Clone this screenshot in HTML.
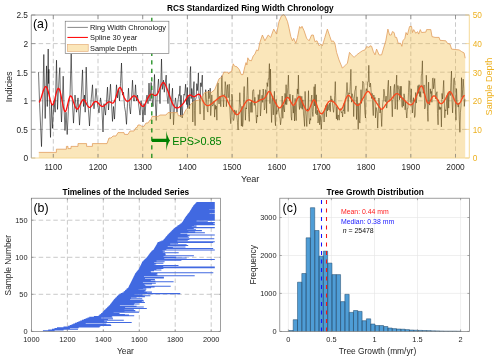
<!DOCTYPE html>
<html lang="en"><head><meta charset="utf-8"><title>RCS Standardized Ring Width Chronology</title>
<style>html,body{margin:0;padding:0;background:#fff}svg{display:block}</style></head>
<body>
<svg width="500" height="361" viewBox="0 0 500 361" font-family='"Liberation Sans", Arial, sans-serif'>
<rect width="500" height="361" fill="#fff"/>
<g>
<line x1="53.3" x2="53.3" y1="15.0" y2="158.0" stroke="#adadad" stroke-width="0.65" stroke-dasharray="4.5,2.8"/>
<line x1="98.0" x2="98.0" y1="15.0" y2="158.0" stroke="#adadad" stroke-width="0.65" stroke-dasharray="4.5,2.8"/>
<line x1="142.7" x2="142.7" y1="15.0" y2="158.0" stroke="#adadad" stroke-width="0.65" stroke-dasharray="4.5,2.8"/>
<line x1="187.4" x2="187.4" y1="15.0" y2="158.0" stroke="#adadad" stroke-width="0.65" stroke-dasharray="4.5,2.8"/>
<line x1="232.1" x2="232.1" y1="15.0" y2="158.0" stroke="#adadad" stroke-width="0.65" stroke-dasharray="4.5,2.8"/>
<line x1="276.8" x2="276.8" y1="15.0" y2="158.0" stroke="#adadad" stroke-width="0.65" stroke-dasharray="4.5,2.8"/>
<line x1="321.4" x2="321.4" y1="15.0" y2="158.0" stroke="#adadad" stroke-width="0.65" stroke-dasharray="4.5,2.8"/>
<line x1="366.1" x2="366.1" y1="15.0" y2="158.0" stroke="#adadad" stroke-width="0.65" stroke-dasharray="4.5,2.8"/>
<line x1="410.8" x2="410.8" y1="15.0" y2="158.0" stroke="#adadad" stroke-width="0.65" stroke-dasharray="4.5,2.8"/>
<line x1="455.5" x2="455.5" y1="15.0" y2="158.0" stroke="#adadad" stroke-width="0.65" stroke-dasharray="4.5,2.8"/>
<line x1="31.3" x2="469.3" y1="129.4" y2="129.4" stroke="#adadad" stroke-width="0.65" stroke-dasharray="4.5,2.8"/>
<line x1="31.3" x2="469.3" y1="100.8" y2="100.8" stroke="#adadad" stroke-width="0.65" stroke-dasharray="4.5,2.8"/>
<line x1="31.3" x2="469.3" y1="72.2" y2="72.2" stroke="#adadad" stroke-width="0.65" stroke-dasharray="4.5,2.8"/>
<line x1="31.3" x2="469.3" y1="43.6" y2="43.6" stroke="#adadad" stroke-width="0.65" stroke-dasharray="4.5,2.8"/>
<path d="M38.5,72.2L39.6,103.7L41.5,146.6L42.8,100.8L43.8,54.5L44.5,92.2L45.2,118.5L46.5,65.9L47.3,106.5L48.2,49.0L48.6,83.6L48.9,69.3L49.6,106.5L50.5,137.4L51.5,103.7L52.5,128.3L54.0,100.8L55.2,112.2L56.5,60.2L57.5,109.4L59.2,75.1L59.8,67.6L60.5,100.8L61.5,122.0L62.4,100.8L63.2,76.2L64.0,106.5L65.0,130.5L66.0,112.2L67.2,134.5L68.5,106.5L70.0,95.1L71.2,53.9L72.3,100.8L73.5,123.1L75.0,95.1L76.5,112.2L78.0,97.9L79.5,125.1L81.0,100.8L82.5,69.9L83.5,106.5L84.5,95.1L85.2,112.2L86.2,67.1L87.3,100.8L88.4,109.4L89.5,126.0L90.8,103.7L92.5,84.8L93.2,100.8L94.0,108.8L95.0,100.8L96.0,88.5L97.5,103.7L99.0,112.8L100.5,97.9L101.8,106.5L103.0,132.0L104.0,103.7L105.5,115.1L106.5,100.8L107.5,87.1L108.5,110.0L109.5,97.9L110.5,84.2L111.5,103.7L112.5,121.4L113.5,106.5L114.5,119.1L115.5,100.8L116.5,84.8L117.5,97.9L118.5,89.4L119.5,100.8L120.5,83.6L121.5,63.0L122.5,95.1L123.5,92.2L124.5,106.5L125.5,112.2L126.5,124.3L127.5,103.7L128.5,88.2L129.5,106.5L130.5,114.0L131.5,97.9L132.5,80.2L133.5,100.8L134.5,100.8L135.5,84.8L136.5,100.8L137.5,95.1L138.5,103.7L140.0,115.1L141.0,100.8L142.0,106.5L143.0,122.0L144.0,103.7L145.0,115.1L146.0,100.8L147.0,95.1L148.0,103.7L149.0,83.1L150.0,100.8L151.2,82.5L152.0,97.9L153.0,106.5L154.5,74.5L155.3,100.8L156.2,120.5L157.2,95.1L158.5,79.1L159.3,92.2L160.0,103.7L160.8,83.6L161.5,59.0L162.3,89.4L163.5,80.2L164.3,92.2L165.2,83.6L166.2,75.1L167.0,95.1L168.0,103.7L169.3,83.6L170.3,119.1L171.5,100.8L172.5,88.2L173.5,124.8L174.5,106.5L175.5,97.9L177.0,112.2L178.0,100.8L178.9,94.6L179.4,95.5L180.0,85.9L180.6,116.6L181.1,95.3L181.7,110.1L182.2,118.0L182.8,104.3L183.3,102.9L183.9,94.3L184.5,95.2L185.0,91.1L185.6,84.2L186.1,94.9L186.7,104.6L187.3,87.4L187.8,108.8L188.4,99.1L188.9,96.4L189.5,108.7L190.1,72.8L190.6,66.5L191.2,98.6L191.7,88.5L192.3,91.6L192.8,122.0L193.4,89.1L194.0,81.6L194.5,110.5L195.1,125.7L195.6,99.4L196.2,97.6L196.8,83.6L197.3,90.6L197.9,83.7L198.4,72.8L199.0,98.7L199.5,98.9L200.1,114.1L200.7,82.8L201.2,86.7L201.8,81.8L202.3,75.1L202.9,98.8L203.5,109.5L204.0,120.0L204.6,105.4L205.1,103.6L205.7,89.7L206.3,97.9L206.8,104.9L207.4,110.8L207.9,112.1L208.5,90.0L209.0,98.7L209.6,95.9L210.2,88.2L210.7,115.6L211.3,105.6L211.8,94.9L212.4,106.1L213.0,105.2L213.5,104.7L214.1,100.9L214.6,117.1L215.2,104.8L215.7,109.3L216.3,106.1L216.9,120.2L217.4,94.0L218.0,82.9L218.5,99.7L219.1,104.0L219.7,96.2L220.2,97.0L220.8,106.7L221.3,92.8L221.9,75.7L222.5,96.4L223.0,98.2L223.6,107.0L224.1,94.5L224.7,95.4L225.2,81.6L225.8,86.1L226.4,106.6L226.9,89.8L227.5,84.7L228.0,97.8L228.6,97.2L229.2,84.2L229.7,105.1L230.3,117.8L230.8,123.7L231.4,108.8L231.9,94.1L232.5,98.6L233.1,118.9L233.6,120.5L234.2,117.6L234.7,109.9L235.3,114.5L235.9,111.3L236.4,110.6L237.0,116.9L237.5,122.5L238.1,130.0L238.7,113.8L239.2,107.6L239.8,92.7L240.3,103.4L240.9,109.1L241.4,126.1L242.0,106.3L242.6,126.6L243.1,122.4L243.7,92.5L244.2,86.5L244.8,104.6L245.4,120.2L245.9,107.8L246.5,109.0L247.0,95.3L247.6,77.3L248.1,95.9L248.7,114.6L249.3,121.4L249.8,102.4L250.4,102.6L250.9,112.4L251.5,100.8L252.1,112.4L252.6,91.3L253.2,89.8L253.7,89.7L254.3,105.4L254.9,97.3L255.4,103.1L256.0,114.7L256.5,123.1L257.1,115.0L257.6,117.0L258.2,94.6L258.8,101.9L259.3,98.3L259.9,89.8L260.4,116.0L261.0,109.0L261.6,98.6L262.1,95.2L262.7,102.4L263.2,89.0L263.8,95.6L264.3,110.0L264.9,107.9L265.5,89.7L266.0,90.5L266.6,113.4L267.1,82.7L267.7,86.5L268.3,78.8L268.8,79.1L269.4,63.6L269.9,103.6L270.5,69.0L271.1,108.0L271.6,122.5L272.2,101.0L272.7,96.1L273.3,114.9L273.8,104.9L274.4,91.3L275.0,119.4L275.5,125.7L276.1,99.3L276.6,114.3L277.2,111.0L277.8,110.8L278.3,107.4L278.9,112.5L279.4,116.5L280.0,118.1L280.5,124.8L281.1,119.9L281.7,107.2L282.2,96.0L282.8,118.3L283.3,104.6L283.9,109.0L284.5,112.0L285.0,93.4L285.6,104.4L286.1,84.7L286.7,104.7L287.3,94.4L287.8,87.4L288.4,75.1L288.9,93.8L289.5,100.5L290.0,94.2L290.6,100.9L291.2,116.5L291.7,120.2L292.3,103.5L292.8,95.1L293.4,113.1L294.0,105.6L294.5,121.0L295.1,98.4L295.6,112.8L296.2,120.6L296.7,103.1L297.3,88.9L297.9,93.9L298.4,75.1L299.0,105.4L299.5,109.5L300.1,95.8L300.7,107.1L301.2,108.3L301.8,96.3L302.3,109.3L302.9,99.8L303.5,113.9L304.0,118.7L304.6,126.4L305.1,91.4L305.7,110.6L306.2,116.9L306.8,126.5L307.4,108.8L307.9,110.1L308.5,90.7L309.0,117.2L309.6,124.1L310.2,118.5L310.7,120.2L311.3,98.8L311.8,95.0L312.4,111.5L312.9,116.5L313.5,105.8L314.1,86.7L314.6,106.0L315.2,84.2L315.7,113.6L316.3,94.8L316.9,115.0L317.4,110.2L318.0,123.0L318.5,120.1L319.1,111.1L319.7,124.8L320.2,115.4L320.8,122.5L321.3,129.4L321.9,118.6L322.4,113.1L323.0,112.7L323.6,112.3L324.1,122.0L324.7,111.3L325.2,108.9L325.8,105.5L326.4,116.8L326.9,104.0L327.5,110.9L328.0,104.3L328.6,108.7L329.1,110.1L329.7,103.0L330.3,111.7L330.8,95.8L331.4,101.6L331.9,98.9L332.5,103.2L333.1,109.3L333.6,112.3L334.2,105.9L334.7,95.3L335.3,81.6L335.9,104.5L336.4,118.9L337.0,106.7L337.5,120.2L338.1,114.9L338.6,116.0L339.2,120.2L339.8,110.5L340.3,108.5L340.9,110.5L341.4,112.7L342.0,111.7L342.6,117.0L343.1,109.8L343.7,110.7L344.2,103.0L344.8,113.8L345.3,99.2L345.9,97.4L346.5,90.9L347.0,82.5L347.6,91.3L348.1,111.6L348.7,92.8L349.3,93.7L349.8,94.0L350.4,81.5L350.9,69.3L351.5,102.2L352.1,93.7L352.6,95.5L353.2,98.6L353.7,116.6L354.3,98.6L354.8,91.2L355.4,89.1L356.0,85.9L356.5,119.5L357.1,96.8L357.6,105.6L358.2,129.4L358.8,103.3L359.3,120.8L359.9,123.1L360.4,110.1L361.0,89.7L361.5,103.4L362.1,97.5L362.7,81.3L363.2,82.0L363.8,83.6L364.3,98.3L364.9,112.9L365.5,118.0L366.0,90.3L366.6,88.8L367.1,91.0L367.7,81.8L368.3,81.7L368.8,65.3L369.4,85.7L369.9,87.1L370.5,83.1L371.0,90.1L371.6,98.5L372.2,93.4L372.7,107.1L373.3,115.6L373.8,95.0L374.4,99.9L375.0,97.5L375.5,117.9L376.1,107.5L376.6,109.5L377.2,113.1L377.7,128.1L378.3,111.2L378.9,98.0L379.4,102.3L380.0,113.0L380.5,108.6L381.1,113.7L381.7,126.5L382.2,112.7L382.8,103.1L383.3,100.2L383.9,89.2L384.5,93.2L385.0,101.2L385.6,101.5L386.1,96.1L386.7,108.1L387.2,103.7L387.8,86.7L388.4,80.2L388.9,100.6L389.5,101.1L390.0,98.3L390.6,86.1L391.2,97.9L391.7,100.2L392.3,116.8L392.8,99.8L393.4,98.8L393.9,88.5L394.5,84.4L395.1,109.1L395.6,105.2L396.2,83.5L396.7,75.1L397.3,109.6L397.9,85.5L398.4,88.9L399.0,89.7L399.5,99.8L400.1,86.2L400.7,97.9L401.2,86.2L401.8,105.6L402.3,107.4L402.9,97.6L403.4,106.1L404.0,93.8L404.6,97.2L405.1,109.8L405.7,101.6L406.2,111.7L406.8,118.0L407.4,108.4L407.9,108.4L408.5,92.3L409.0,80.7L409.6,82.1L410.1,101.8L410.7,102.4L411.3,88.9L411.8,103.6L412.4,113.0L412.9,102.6L413.5,97.7L414.1,109.4L414.6,117.5L415.2,114.9L415.7,92.5L416.3,103.1L416.9,96.8L417.4,91.4L418.0,85.6L418.5,93.4L419.1,84.7L419.6,96.5L420.2,91.6L420.8,97.3L421.3,75.9L421.9,73.2L422.4,60.8L423.0,93.3L423.6,93.0L424.1,84.9L424.7,108.9L425.2,107.6L425.8,102.8L426.3,75.2L426.9,89.2L427.5,111.6L428.0,121.4L428.6,82.1L429.1,102.6L429.7,105.1L430.3,88.8L430.8,93.5L431.4,91.4L431.9,102.3L432.5,78.7L433.1,77.9L433.6,88.8L434.2,83.4L434.7,78.5L435.3,92.6L435.8,99.0L436.4,93.9L437.0,91.7L437.5,113.7L438.1,124.8L438.6,99.7L439.2,109.6L439.8,106.7L440.3,109.4L440.9,107.3L441.4,126.9L442.0,93.4L442.5,99.0L443.1,90.5L443.7,80.4L444.2,98.3L444.8,117.8L445.3,109.7L445.9,111.0L446.5,103.1L447.0,95.6L447.6,114.7L448.1,92.6L448.7,108.1L449.3,91.0L449.8,92.7L450.4,95.5L450.9,82.6L451.5,71.1L452.0,101.2L452.6,112.9L453.2,98.8L453.7,79.9L454.3,77.8L454.8,85.3L455.4,106.5L456.0,120.2L456.5,88.6L457.1,102.2L457.6,104.1L458.2,107.1L458.8,102.9L459.3,119.8L459.9,132.3L460.4,112.8L461.0,105.8L461.5,77.7L462.1,97.3L462.7,89.5L463.2,79.1L463.8,88.8L464.3,106.4L464.9,98.9" fill="none" stroke="#000" stroke-width="0.55" stroke-linejoin="round"/>
<path d="M39.1,102.4L39.8,101.3L40.5,99.6L41.2,97.6L41.9,95.3L42.6,93.0L43.3,90.8L44.0,88.9L44.7,87.4L45.4,86.6L46.1,86.6L46.8,87.5L47.5,89.2L48.2,91.5L48.9,94.2L49.6,97.1L50.3,99.9L51.0,102.4L51.7,104.2L52.4,104.9L53.1,104.4L53.8,102.7L54.5,100.3L55.2,97.5L55.9,94.6L56.6,91.9L57.3,89.8L58.0,88.5L58.7,88.4L59.4,89.4L60.1,91.5L60.8,94.4L61.5,97.8L62.2,101.4L62.9,105.0L63.6,108.1L64.3,110.4L65.0,111.6L65.7,111.2L66.4,109.5L67.1,106.8L67.8,103.8L68.5,100.8L69.2,98.3L69.9,96.6L70.6,95.8L71.3,96.2L72.0,97.5L72.7,99.5L73.4,101.8L74.1,103.9L74.8,105.8L75.5,107.4L76.2,108.5L76.9,109.1L77.6,109.0L78.3,108.3L79.0,107.1L79.7,105.6L80.4,104.0L81.1,102.4L81.8,101.1L82.5,100.1L83.2,99.6L83.9,99.7L84.6,100.5L85.3,101.6L86.0,102.9L86.7,104.3L87.4,105.5L88.1,106.5L88.8,107.1L89.5,107.4L90.2,107.3L90.9,106.7L91.6,105.8L92.3,104.8L93.0,103.7L93.7,102.7L94.4,102.0L95.1,101.6L95.8,101.4L96.5,101.6L97.2,102.0L97.9,102.7L98.6,103.5L99.3,104.3L100.0,105.0L100.7,105.6L101.4,106.1L102.1,106.3L102.8,106.4L103.5,106.2L104.2,105.7L104.9,105.1L105.6,104.4L106.3,103.7L107.0,103.0L107.7,102.4L108.4,102.0L109.1,101.8L109.8,101.8L110.5,102.1L111.2,102.6L111.9,103.0L112.6,103.2L113.3,102.9L114.0,102.0L114.7,100.6L115.4,98.7L116.1,96.6L116.8,94.3L117.5,92.1L118.2,90.1L118.9,88.5L119.6,87.6L120.3,87.5L121.0,88.4L121.7,90.1L122.4,92.2L123.1,94.4L123.8,96.4L124.5,98.0L125.2,99.4L125.9,100.4L126.6,101.0L127.3,101.3L128.0,101.2L128.7,100.8L129.4,100.2L130.1,99.5L130.8,98.6L131.5,97.7L132.2,96.9L132.9,96.3L133.6,95.9L134.3,95.8L135.0,96.1L135.7,96.7L136.4,97.6L137.1,98.6L137.8,99.7L138.5,100.9L139.2,102.1L139.9,103.2L140.6,104.3L141.3,105.3L142.0,106.0L142.7,106.4L143.4,106.4L144.1,105.8L144.8,104.7L145.5,103.3L146.2,101.7L146.9,100.1L147.6,98.6L148.3,97.3L149.0,96.1L149.7,95.2L150.4,94.6L151.1,94.3L151.8,94.2L152.5,94.3L153.2,94.6L153.9,95.0L154.6,95.3L155.3,95.5L156.0,95.4L156.7,94.9L157.4,94.0L158.1,92.7L158.8,91.1L159.5,89.3L160.2,87.5L160.9,85.8L161.6,84.3L162.3,83.2L163.0,82.6L163.7,82.6L164.4,83.2L165.1,84.4L165.8,85.8L166.5,87.5L167.2,89.3L167.9,91.1L168.6,93.0L169.3,94.9L170.0,96.9L170.7,98.9L171.4,100.8L172.1,102.5L172.8,104.1L173.5,105.4L174.2,106.4L174.9,107.1L175.6,107.6L176.3,107.9L177.0,107.9L177.7,107.8L178.4,107.6L179.1,107.2L179.8,106.7L180.5,106.2L181.2,105.6L181.9,104.9L182.6,104.2L183.3,103.3L184.0,102.3L184.7,101.3L185.4,100.2L186.1,99.1L186.8,98.0L187.5,97.0L188.2,96.1L188.9,95.5L189.6,95.1L190.3,95.0L191.0,95.3L191.7,95.7L192.4,96.2L193.1,96.5L193.8,96.7L194.5,96.6L195.2,96.3L195.9,95.8L196.6,95.3L197.3,94.8L198.0,94.4L198.7,94.2L199.4,94.4L200.1,95.2L200.8,96.4L201.5,97.9L202.2,99.5L202.9,100.9L203.6,102.2L204.3,103.3L205.0,104.2L205.7,104.8L206.4,105.3L207.1,105.5L207.8,105.6L208.5,105.5L209.2,105.3L209.9,104.9L210.6,104.5L211.3,104.0L212.0,103.5L212.7,102.9L213.4,102.3L214.1,101.7L214.8,101.2L215.5,100.6L216.2,100.0L216.9,99.4L217.6,98.9L218.3,98.3L219.0,97.7L219.7,97.2L220.4,96.7L221.1,96.3L221.8,96.0L222.5,95.8L223.2,95.7L223.9,95.9L224.6,96.3L225.3,96.9L226.0,97.8L226.7,99.1L227.4,100.5L228.1,102.0L228.8,103.5L229.5,104.9L230.2,106.2L230.9,107.3L231.6,108.4L232.3,109.5L233.0,110.5L233.7,111.5L234.4,112.5L235.1,113.4L235.8,114.0L236.5,114.5L237.2,114.6L237.9,114.4L238.6,113.8L239.3,113.0L240.0,112.0L240.7,110.8L241.4,109.6L242.1,108.3L242.8,107.0L243.5,105.8L244.2,104.6L244.9,103.4L245.6,102.3L246.3,101.4L247.0,100.7L247.7,100.2L248.4,99.9L249.1,99.9L249.8,100.0L250.5,100.2L251.2,100.6L251.9,101.0L252.6,101.4L253.3,101.8L254.0,102.1L254.7,102.4L255.4,102.4L256.1,102.3L256.8,102.0L257.5,101.5L258.2,101.0L258.9,100.5L259.6,100.1L260.3,99.8L261.0,99.6L261.7,99.5L262.4,99.4L263.1,99.2L263.8,98.8L264.5,98.2L265.2,97.3L265.9,96.3L266.6,95.0L267.3,93.7L268.0,92.4L268.7,91.6L269.4,91.3L270.1,91.8L270.8,92.9L271.5,94.4L272.2,96.1L272.9,97.7L273.6,99.2L274.3,100.6L275.0,101.9L275.7,103.1L276.4,104.4L277.1,105.6L277.8,106.6L278.5,107.4L279.2,107.8L279.9,107.9L280.6,107.5L281.3,106.7L282.0,105.7L282.7,104.5L283.4,103.1L284.1,101.7L284.8,100.3L285.5,99.1L286.2,98.2L286.9,97.6L287.6,97.4L288.3,97.7L289.0,98.4L289.7,99.5L290.4,100.9L291.1,102.4L291.8,103.7L292.5,104.8L293.2,105.3L293.9,105.2L294.6,104.4L295.3,103.2L296.0,101.7L296.7,100.1L297.4,98.6L298.1,97.4L298.8,96.7L299.5,96.7L300.2,97.5L300.9,98.8L301.6,100.4L302.3,102.2L303.0,103.8L303.7,105.4L304.4,106.8L305.1,108.1L305.8,109.3L306.5,110.2L307.2,110.8L307.9,110.8L308.6,110.2L309.3,109.1L310.0,107.6L310.7,105.8L311.4,104.0L312.1,102.3L312.8,100.9L313.5,100.0L314.2,100.0L314.9,100.7L315.6,102.1L316.3,103.8L317.0,105.7L317.7,107.7L318.4,109.5L319.1,111.1L319.8,112.4L320.5,113.4L321.2,113.8L321.9,113.7L322.6,113.2L323.3,112.2L324.0,111.0L324.7,109.5L325.4,107.9L326.1,106.2L326.8,104.6L327.5,103.3L328.2,102.3L328.9,101.5L329.6,101.1L330.3,100.8L331.0,100.8L331.7,100.9L332.4,101.2L333.1,101.6L333.8,102.1L334.5,102.8L335.2,103.6L335.9,104.4L336.6,105.4L337.3,106.4L338.0,107.5L338.7,108.6L339.4,109.4L340.1,109.9L340.8,109.8L341.5,109.2L342.2,108.2L342.9,106.7L343.6,105.0L344.3,103.2L345.0,101.2L345.7,99.4L346.4,97.7L347.1,96.4L347.8,95.6L348.5,95.3L349.2,95.6L349.9,96.4L350.6,97.5L351.3,98.6L352.0,99.7L352.7,100.7L353.4,101.6L354.1,102.4L354.8,103.2L355.5,103.9L356.2,104.6L356.9,105.1L357.6,105.4L358.3,105.3L359.0,104.8L359.7,103.9L360.4,102.9L361.1,101.7L361.8,100.4L362.5,99.2L363.2,98.0L363.9,96.8L364.6,95.5L365.3,94.3L366.0,93.1L366.7,92.2L367.4,91.5L368.1,91.3L368.8,91.6L369.5,92.4L370.2,93.5L370.9,94.7L371.6,96.0L372.3,97.1L373.0,98.1L373.7,99.0L374.4,99.9L375.1,100.8L375.8,101.7L376.5,102.8L377.2,103.8L377.9,104.9L378.6,106.0L379.3,107.0L380.0,107.9L380.7,108.7L381.4,109.1L382.1,109.1L382.8,108.6L383.5,107.8L384.2,106.9L384.9,105.8L385.6,104.7L386.3,103.8L387.0,102.8L387.7,102.1L388.4,101.4L389.1,100.9L389.8,100.5L390.5,99.9L391.2,99.1L391.9,98.3L392.6,97.5L393.3,96.6L394.0,95.7L394.7,95.0L395.4,94.3L396.1,93.8L396.8,93.6L397.5,93.7L398.2,94.0L398.9,94.6L399.6,95.3L400.3,96.0L401.0,96.8L401.7,97.6L402.4,98.3L403.1,99.0L403.8,99.6L404.5,100.3L405.2,101.0L405.9,101.7L406.6,102.3L407.3,103.0L408.0,103.6L408.7,104.1L409.4,104.5L410.1,104.8L410.8,104.9L411.5,104.7L412.2,104.3L412.9,103.5L413.6,102.5L414.3,101.2L415.0,99.6L415.7,97.9L416.4,96.0L417.1,94.1L417.8,92.3L418.5,90.5L419.2,88.9L419.9,87.5L420.6,86.4L421.3,85.8L422.0,86.1L422.7,87.3L423.4,89.2L424.1,91.6L424.8,94.3L425.5,97.1L426.2,99.6L426.9,101.6L427.6,102.8L428.3,103.3L429.0,103.0L429.7,102.1L430.4,100.8L431.1,99.3L431.8,97.9L432.5,96.8L433.2,96.1L433.9,95.8L434.6,95.9L435.3,96.5L436.0,97.4L436.7,98.5L437.4,99.7L438.1,100.9L438.8,102.0L439.5,102.9L440.2,103.4L440.9,103.7L441.6,103.6L442.3,103.2L443.0,102.6L443.7,101.8L444.4,100.7L445.1,99.5L445.8,98.2L446.5,96.8L447.2,95.4L447.9,94.0L448.6,92.8L449.3,91.9L450.0,91.6L450.7,92.0L451.4,93.0L452.1,94.3L452.8,95.9L453.5,97.6L454.2,99.3L454.9,100.8L455.6,102.1L456.3,103.0L457.0,103.7L457.7,104.1L458.4,104.1L459.1,103.7L459.8,103.0L460.5,102.0L461.2,100.6L461.9,99.1L462.6,97.7L463.3,96.5L464.0,95.7L464.7,95.7" fill="none" stroke="#ff0d0d" stroke-width="1.3" stroke-linejoin="round"/>
<path d="M38.8,158.0L38.8,152.4L56.4,152.4L56.4,149.2L66.4,149.2L66.4,146.4L68.0,146.4L68.0,148.6L71.0,148.6L71.0,146.4L78.0,146.4L78.0,143.6L86.6,143.6L86.6,146.4L92.4,146.4L92.4,143.6L107.0,143.6L109.0,138.0L111.0,138.0L113.0,136.0L116.0,136.0L118.0,132.6L124.0,132.6L124.5,134.4L128.0,134.4L130.0,131.0L134.0,131.0L136.0,127.6L137.0,127.6L138.0,125.0L140.0,125.0L142.0,126.4L144.0,126.4L146.0,123.0L148.0,123.0L150.0,120.0L151.0,120.0L152.0,116.4L158.0,116.4L160.0,115.0L166.0,115.0L168.0,112.6L177.5,112.6L178.3,115.7L183.0,115.7L185.8,109.9L188.3,107.4L191.6,103.3L195.0,100.8L200.0,99.9L203.3,95.0L204.6,92.6L210.0,91.4L211.2,92.6L214.8,89.6L216.6,84.8L219.0,78.8L222.0,77.0L223.8,72.2L228.0,72.2L228.6,74.0L229.8,72.2L231.6,71.6L233.2,63.8L234.6,66.2L237.0,66.8L239.4,69.8L241.2,74.6L243.0,74.6L244.8,66.8L246.0,62.6L246.9,65.0L247.8,57.8L249.0,60.2L251.4,60.8L253.2,56.0L254.9,54.1L256.6,49.9L258.2,50.7L259.9,42.4L262.4,35.0L264.9,40.8L268.2,35.0L270.7,37.4L273.7,29.1L276.5,34.1L279.0,21.6L281.5,15.8L283.5,14.6L285.0,15.8L287.5,21.6L289.1,28.3L290.8,36.6L292.5,40.8L293.7,38.3L295.8,43.3L297.5,37.4L299.6,26.6L300.8,28.3L302.0,26.3L304.1,30.8L306.6,38.3L309.1,40.8L311.6,35.0L313.3,35.0L314.9,41.6L317.0,40.8L319.1,45.8L320.8,44.1L322.4,45.8L324.9,37.4L327.4,29.1L329.9,36.6L331.6,41.6L333.2,40.8L334.9,43.3L336.6,52.4L339.0,59.9L342.4,68.2L344.9,65.7L347.4,63.2L349.5,52.4L351.6,54.9L354.1,57.4L356.6,54.9L360.0,52.4L362.5,50.7L365.0,49.9L366.6,46.6L369.1,47.4L370.0,45.8L371.6,46.3L373.3,51.6L375.0,54.9L376.6,49.1L379.1,54.9L381.6,54.9L383.3,49.1L385.8,40.8L387.9,29.1L389.6,35.0L391.2,35.0L392.4,31.6L394.1,32.5L395.2,37.4L396.6,37.4L398.2,43.3L400.7,43.3L401.9,46.3L402.9,40.8L404.9,38.3L406.0,32.5L407.4,35.0L409.5,26.6L411.5,26.4L412.5,32.5L413.7,29.6L415.8,33.3L417.5,31.6L418.7,34.1L420.3,29.6L421.6,32.5L425.8,32.1L426.6,29.6L430.8,29.6L432.0,36.6L435.0,37.4L439.1,37.4L440.0,40.3L445.8,40.8L447.4,43.3L450.0,44.1L451.6,49.1L459.1,49.9L461.6,51.6L464.1,52.9L465.2,58.2L465.2,158.0 Z" fill="#f2b83a" fill-opacity="0.35" stroke="none"/>
<path d="M38.8,152.4L56.4,152.4L56.4,149.2L66.4,149.2L66.4,146.4L68.0,146.4L68.0,148.6L71.0,148.6L71.0,146.4L78.0,146.4L78.0,143.6L86.6,143.6L86.6,146.4L92.4,146.4L92.4,143.6L107.0,143.6L109.0,138.0L111.0,138.0L113.0,136.0L116.0,136.0L118.0,132.6L124.0,132.6L124.5,134.4L128.0,134.4L130.0,131.0L134.0,131.0L136.0,127.6L137.0,127.6L138.0,125.0L140.0,125.0L142.0,126.4L144.0,126.4L146.0,123.0L148.0,123.0L150.0,120.0L151.0,120.0L152.0,116.4L158.0,116.4L160.0,115.0L166.0,115.0L168.0,112.6L177.5,112.6L178.3,115.7L183.0,115.7L185.8,109.9L188.3,107.4L191.6,103.3L195.0,100.8L200.0,99.9L203.3,95.0L204.6,92.6L210.0,91.4L211.2,92.6L214.8,89.6L216.6,84.8L219.0,78.8L222.0,77.0L223.8,72.2L228.0,72.2L228.6,74.0L229.8,72.2L231.6,71.6L233.2,63.8L234.6,66.2L237.0,66.8L239.4,69.8L241.2,74.6L243.0,74.6L244.8,66.8L246.0,62.6L246.9,65.0L247.8,57.8L249.0,60.2L251.4,60.8L253.2,56.0L254.9,54.1L256.6,49.9L258.2,50.7L259.9,42.4L262.4,35.0L264.9,40.8L268.2,35.0L270.7,37.4L273.7,29.1L276.5,34.1L279.0,21.6L281.5,15.8L283.5,14.6L285.0,15.8L287.5,21.6L289.1,28.3L290.8,36.6L292.5,40.8L293.7,38.3L295.8,43.3L297.5,37.4L299.6,26.6L300.8,28.3L302.0,26.3L304.1,30.8L306.6,38.3L309.1,40.8L311.6,35.0L313.3,35.0L314.9,41.6L317.0,40.8L319.1,45.8L320.8,44.1L322.4,45.8L324.9,37.4L327.4,29.1L329.9,36.6L331.6,41.6L333.2,40.8L334.9,43.3L336.6,52.4L339.0,59.9L342.4,68.2L344.9,65.7L347.4,63.2L349.5,52.4L351.6,54.9L354.1,57.4L356.6,54.9L360.0,52.4L362.5,50.7L365.0,49.9L366.6,46.6L369.1,47.4L370.0,45.8L371.6,46.3L373.3,51.6L375.0,54.9L376.6,49.1L379.1,54.9L381.6,54.9L383.3,49.1L385.8,40.8L387.9,29.1L389.6,35.0L391.2,35.0L392.4,31.6L394.1,32.5L395.2,37.4L396.6,37.4L398.2,43.3L400.7,43.3L401.9,46.3L402.9,40.8L404.9,38.3L406.0,32.5L407.4,35.0L409.5,26.6L411.5,26.4L412.5,32.5L413.7,29.6L415.8,33.3L417.5,31.6L418.7,34.1L420.3,29.6L421.6,32.5L425.8,32.1L426.6,29.6L430.8,29.6L432.0,36.6L435.0,37.4L439.1,37.4L440.0,40.3L445.8,40.8L447.4,43.3L450.0,44.1L451.6,49.1L459.1,49.9L461.6,51.6L464.1,52.9L465.2,58.2" fill="none" stroke="#e09a58" stroke-opacity="0.9" stroke-width="0.85"/>
<path d="M31.3,158.0V15.0H469.3" fill="none" stroke="#767676" stroke-width="0.7"/>
<path d="M469.3,15.0V158.0" fill="none" stroke="#f3cf7c" stroke-width="0.8"/>
<line x1="53.3" x2="53.3" y1="158.0" y2="154.0" stroke="#767676" stroke-width="0.6"/>
<line x1="53.3" x2="53.3" y1="15.0" y2="19.0" stroke="#767676" stroke-width="0.6"/>
<text x="53.3" y="169.9" font-size="8.3" text-anchor="middle" fill="#262626">1100</text>
<line x1="98.0" x2="98.0" y1="158.0" y2="154.0" stroke="#767676" stroke-width="0.6"/>
<line x1="98.0" x2="98.0" y1="15.0" y2="19.0" stroke="#767676" stroke-width="0.6"/>
<text x="98.0" y="169.9" font-size="8.3" text-anchor="middle" fill="#262626">1200</text>
<line x1="142.7" x2="142.7" y1="158.0" y2="154.0" stroke="#767676" stroke-width="0.6"/>
<line x1="142.7" x2="142.7" y1="15.0" y2="19.0" stroke="#767676" stroke-width="0.6"/>
<text x="142.7" y="169.9" font-size="8.3" text-anchor="middle" fill="#262626">1300</text>
<line x1="187.4" x2="187.4" y1="158.0" y2="154.0" stroke="#767676" stroke-width="0.6"/>
<line x1="187.4" x2="187.4" y1="15.0" y2="19.0" stroke="#767676" stroke-width="0.6"/>
<text x="187.4" y="169.9" font-size="8.3" text-anchor="middle" fill="#262626">1400</text>
<line x1="232.1" x2="232.1" y1="158.0" y2="154.0" stroke="#767676" stroke-width="0.6"/>
<line x1="232.1" x2="232.1" y1="15.0" y2="19.0" stroke="#767676" stroke-width="0.6"/>
<text x="232.1" y="169.9" font-size="8.3" text-anchor="middle" fill="#262626">1500</text>
<line x1="276.8" x2="276.8" y1="158.0" y2="154.0" stroke="#767676" stroke-width="0.6"/>
<line x1="276.8" x2="276.8" y1="15.0" y2="19.0" stroke="#767676" stroke-width="0.6"/>
<text x="276.8" y="169.9" font-size="8.3" text-anchor="middle" fill="#262626">1600</text>
<line x1="321.4" x2="321.4" y1="158.0" y2="154.0" stroke="#767676" stroke-width="0.6"/>
<line x1="321.4" x2="321.4" y1="15.0" y2="19.0" stroke="#767676" stroke-width="0.6"/>
<text x="321.4" y="169.9" font-size="8.3" text-anchor="middle" fill="#262626">1700</text>
<line x1="366.1" x2="366.1" y1="158.0" y2="154.0" stroke="#767676" stroke-width="0.6"/>
<line x1="366.1" x2="366.1" y1="15.0" y2="19.0" stroke="#767676" stroke-width="0.6"/>
<text x="366.1" y="169.9" font-size="8.3" text-anchor="middle" fill="#262626">1800</text>
<line x1="410.8" x2="410.8" y1="158.0" y2="154.0" stroke="#767676" stroke-width="0.6"/>
<line x1="410.8" x2="410.8" y1="15.0" y2="19.0" stroke="#767676" stroke-width="0.6"/>
<text x="410.8" y="169.9" font-size="8.3" text-anchor="middle" fill="#262626">1900</text>
<line x1="455.5" x2="455.5" y1="158.0" y2="154.0" stroke="#767676" stroke-width="0.6"/>
<line x1="455.5" x2="455.5" y1="15.0" y2="19.0" stroke="#767676" stroke-width="0.6"/>
<text x="455.5" y="169.9" font-size="8.3" text-anchor="middle" fill="#262626">2000</text>
<line x1="31.3" x2="35.3" y1="158.0" y2="158.0" stroke="#767676" stroke-width="0.6"/>
<text x="28" y="161.3" font-size="8.3" text-anchor="end" fill="#262626">0</text>
<line x1="31.3" x2="35.3" y1="129.4" y2="129.4" stroke="#767676" stroke-width="0.6"/>
<text x="28" y="132.7" font-size="8.3" text-anchor="end" fill="#262626">0.5</text>
<line x1="31.3" x2="35.3" y1="100.8" y2="100.8" stroke="#767676" stroke-width="0.6"/>
<text x="28" y="104.1" font-size="8.3" text-anchor="end" fill="#262626">1</text>
<line x1="31.3" x2="35.3" y1="72.2" y2="72.2" stroke="#767676" stroke-width="0.6"/>
<text x="28" y="75.5" font-size="8.3" text-anchor="end" fill="#262626">1.5</text>
<line x1="31.3" x2="35.3" y1="43.6" y2="43.6" stroke="#767676" stroke-width="0.6"/>
<text x="28" y="46.9" font-size="8.3" text-anchor="end" fill="#262626">2</text>
<line x1="31.3" x2="35.3" y1="15.0" y2="15.0" stroke="#767676" stroke-width="0.6"/>
<text x="28" y="18.3" font-size="8.3" text-anchor="end" fill="#262626">2.5</text>
<line x1="469.3" x2="465.3" y1="158.0" y2="158.0" stroke="#f3cf7c" stroke-width="0.7"/>
<text x="472.7" y="161.3" font-size="8.3" fill="#edb120">0</text>
<line x1="469.3" x2="465.3" y1="129.4" y2="129.4" stroke="#f3cf7c" stroke-width="0.7"/>
<text x="472.7" y="132.7" font-size="8.3" fill="#edb120">10</text>
<line x1="469.3" x2="465.3" y1="100.8" y2="100.8" stroke="#f3cf7c" stroke-width="0.7"/>
<text x="472.7" y="104.1" font-size="8.3" fill="#edb120">20</text>
<line x1="469.3" x2="465.3" y1="72.2" y2="72.2" stroke="#f3cf7c" stroke-width="0.7"/>
<text x="472.7" y="75.5" font-size="8.3" fill="#edb120">30</text>
<line x1="469.3" x2="465.3" y1="43.6" y2="43.6" stroke="#f3cf7c" stroke-width="0.7"/>
<text x="472.7" y="46.9" font-size="8.3" fill="#edb120">40</text>
<line x1="469.3" x2="465.3" y1="15.0" y2="15.0" stroke="#f3cf7c" stroke-width="0.7"/>
<text x="472.7" y="18.3" font-size="8.3" fill="#edb120">50</text>
<path d="M31.3,158.0H469.3" fill="none" stroke="#f4d68c" stroke-width="0.9"/>
<line x1="151.8" x2="151.8" y1="158.0" y2="15.0" stroke="#1a8c1a" stroke-width="1.3" stroke-dasharray="4.2,4.3"/>
<path d="M151.8,138.8H166.3V130.7Q167.3,137.2 170.1,140.4Q167.3,143.6 166.3,150.7V142.0H151.8Z" fill="#008000"/>
<text x="172.3" y="145.1" font-size="10.9" fill="#008000">EPS&gt;0.85</text>
<rect x="65.2" y="21.2" width="103.7" height="32.4" fill="#fff" stroke="#6a6a6a" stroke-width="0.6"/>
<line x1="67.4" x2="87.9" y1="27.4" y2="27.4" stroke="#555" stroke-width="0.7"/>
<line x1="67.4" x2="87.9" y1="37.45" y2="37.45" stroke="#ff1010" stroke-width="1.1"/>
<rect x="67.6" y="44.4" width="20.6" height="6.9" fill="#fbe6b9" stroke="#e2a56c" stroke-width="0.6"/>
<text x="90" y="29.8" font-size="7.4" fill="#111">Ring Width Chronology</text>
<text x="90" y="40.2" font-size="7.4" fill="#111">Spline 30 year</text>
<text x="90" y="50.7" font-size="7.4" fill="#111">Sample Depth</text>
<text x="32.9" y="28.3" font-size="12.4" fill="#000">(a)</text>
<text x="250.3" y="10.8" font-size="8.3" font-weight="bold" text-anchor="middle" fill="#000">RCS Standardized Ring Width Chronology</text>
<text x="250.1" y="182.2" font-size="9.1" text-anchor="middle" fill="#262626">Year</text>
<text transform="translate(11.8,86.8) rotate(-90)" font-size="9.1" text-anchor="middle" fill="#262626">Indicies</text>
<text transform="translate(492.3,86.6) rotate(-90)" font-size="9.1" text-anchor="middle" fill="#edb120">Sample Depth</text>
</g>
<g>
<line x1="67.4" x2="67.4" y1="198.2" y2="331.4" stroke="#adadad" stroke-width="0.65" stroke-dasharray="4.5,2.8"/>
<line x1="103.3" x2="103.3" y1="198.2" y2="331.4" stroke="#adadad" stroke-width="0.65" stroke-dasharray="4.5,2.8"/>
<line x1="139.3" x2="139.3" y1="198.2" y2="331.4" stroke="#adadad" stroke-width="0.65" stroke-dasharray="4.5,2.8"/>
<line x1="175.2" x2="175.2" y1="198.2" y2="331.4" stroke="#adadad" stroke-width="0.65" stroke-dasharray="4.5,2.8"/>
<line x1="211.2" x2="211.2" y1="198.2" y2="331.4" stroke="#adadad" stroke-width="0.65" stroke-dasharray="4.5,2.8"/>
<line x1="31.4" x2="220.6" y1="294.3" y2="294.3" stroke="#adadad" stroke-width="0.65" stroke-dasharray="4.5,2.8"/>
<line x1="31.4" x2="220.6" y1="257.3" y2="257.3" stroke="#adadad" stroke-width="0.65" stroke-dasharray="4.5,2.8"/>
<line x1="31.4" x2="220.6" y1="220.2" y2="220.2" stroke="#adadad" stroke-width="0.65" stroke-dasharray="4.5,2.8"/>
<path d="M42.9,330.7H54.6M48.2,329.9H63.6M52.0,329.2H78.0M54.5,328.4H69.9M57.0,327.7H78.7M63.5,327.0H99.5M68.1,326.2H100.4M69.8,325.5H111.2M71.6,324.7H110.7M73.3,324.0H106.4M75.0,323.2H85.7M76.8,322.5H131.7M78.5,321.8H107.1M80.3,321.0H104.2M82.0,320.3H123.8M83.8,319.5H108.0M85.6,318.8H113.0M87.5,318.1H101.2M89.3,317.3H112.5M93.9,316.6H111.8M98.6,315.8H134.2M99.4,315.1H129.0M100.3,314.4H124.9M101.1,313.6H119.5M102.0,312.9H113.6M102.8,312.1H139.1M103.4,311.4H124.5M104.1,310.6H135.3M104.7,309.9H124.4M105.5,309.2H133.9M106.3,308.4H146.8M107.0,307.7H125.1M107.8,306.9H143.8M108.6,306.2H136.6M109.4,305.5H119.9M110.0,304.7H133.9M110.6,304.0H138.9M111.2,303.2H134.6M111.8,302.5H144.9M112.3,301.7H141.8M112.9,301.0H144.0M113.5,300.3H143.2M114.1,299.5H130.1M114.8,298.8H142.2M115.5,298.0H131.0M116.3,297.3H136.6M117.0,296.6H144.9M117.7,295.8H150.4M118.4,295.1H142.5M119.5,294.3H134.4M120.8,293.6H180.3M122.2,292.9H147.0M123.5,292.1H151.9M124.3,291.4H144.3M125.1,290.6H145.6M125.8,289.9H138.6M126.6,289.1H146.3M127.4,288.4H143.2M128.2,287.7H151.1M128.6,286.9H154.6M129.0,286.2H170.7M129.3,285.4H145.4M129.7,284.7H144.5M130.1,284.0H151.9M130.5,283.2H155.8M130.9,282.5H142.9M131.2,281.7H173.6M131.6,281.0H155.3M132.0,280.3H150.8M132.4,279.5H154.9M132.7,278.8H145.0M133.1,278.0H163.9M133.5,277.3H163.9M133.8,276.5H144.0M134.2,275.8H194.7M134.6,275.1H157.4M134.9,274.3H155.8M135.3,273.6H157.4M135.9,272.8H213.3M136.5,272.1H151.1M137.1,271.4H150.4M137.6,270.6H154.0M138.2,269.9H161.4M138.8,269.1H156.4M139.2,268.4H163.4M139.5,267.6H214.8M139.9,266.9H214.8M140.2,266.2H163.2M140.6,265.4H178.5M141.0,264.7H154.6M141.3,263.9H156.2M141.7,263.2H163.4M142.0,262.5H154.2M142.4,261.7H164.6M143.2,261.0H156.5M143.9,260.2H181.4M144.7,259.5H214.8M145.5,258.8H164.3M146.2,258.0H186.7M147.0,257.3H176.3M147.6,256.5H163.6M148.1,255.8H193.9M148.7,255.0H165.4M149.2,254.3H165.7M149.8,253.6H165.2M150.3,252.8H178.7M151.0,252.1H162.8M151.7,251.3H164.8M152.5,250.6H162.5M153.2,249.9H214.8M154.0,249.1H166.4M154.4,248.4H213.2M154.8,247.6H172.9M155.2,246.9H185.5M155.6,246.2H167.7M156.1,245.4H188.2M156.5,244.7H186.6M156.9,243.9H170.2M157.3,243.2H178.1M157.7,242.4H213.2M159.5,241.7H214.8M161.4,241.0H177.4M163.2,240.2H187.8M163.8,239.5H189.4M164.5,238.7H214.3M165.1,238.0H177.8M165.7,237.3H188.9M166.3,236.5H187.8M167.0,235.8H189.6M167.6,235.0H214.8M168.3,234.3H187.3M169.1,233.5H180.5M169.8,232.8H204.9M170.6,232.1H195.2M171.3,231.3H188.4M172.1,230.6H201.9M172.8,229.8H195.9M173.6,229.1H186.9M174.3,228.4H193.8M175.3,227.6H214.8M176.3,226.9H191.8M177.3,226.1H196.5M178.3,225.4H193.9M179.3,224.7H214.8M180.3,223.9H214.8M181.3,223.2H213.2M182.1,222.4H214.8M182.6,221.7H207.8M183.1,220.9H196.5M183.5,220.2H214.8M184.0,219.5H214.8M184.5,218.7H214.8M184.9,218.0H214.8M185.4,217.2H214.8M186.0,216.5H214.8M186.6,215.8H214.8M187.1,215.0H214.8M187.7,214.3H214.8M188.3,213.5H209.6M188.9,212.8H214.8M189.5,212.1H214.8M190.0,211.3H214.8M190.4,210.6H214.8M190.9,209.8H209.2M191.3,209.1H214.8M191.8,208.3H214.8M192.2,207.6H214.8M192.7,206.9H214.8M193.1,206.1H214.8M193.8,205.4H214.8M194.4,204.6H214.8M195.1,203.9H214.8M195.7,203.2H214.8M196.4,202.4H214.8" fill="none" stroke="#4169e1" stroke-width="1.05"/>
<rect x="31.4" y="198.2" width="189.2" height="133.2" fill="none" stroke="#767676" stroke-width="0.7"/>
<line x1="31.4" x2="31.4" y1="331.4" y2="329.4" stroke="#767676" stroke-width="0.6"/>
<line x1="31.4" x2="31.4" y1="198.2" y2="200.2" stroke="#767676" stroke-width="0.6"/>
<text x="31.4" y="342.1" font-size="7.4" text-anchor="middle" fill="#262626">1000</text>
<line x1="67.4" x2="67.4" y1="331.4" y2="329.4" stroke="#767676" stroke-width="0.6"/>
<line x1="67.4" x2="67.4" y1="198.2" y2="200.2" stroke="#767676" stroke-width="0.6"/>
<text x="67.4" y="342.1" font-size="7.4" text-anchor="middle" fill="#262626">1200</text>
<line x1="103.3" x2="103.3" y1="331.4" y2="329.4" stroke="#767676" stroke-width="0.6"/>
<line x1="103.3" x2="103.3" y1="198.2" y2="200.2" stroke="#767676" stroke-width="0.6"/>
<text x="103.3" y="342.1" font-size="7.4" text-anchor="middle" fill="#262626">1400</text>
<line x1="139.3" x2="139.3" y1="331.4" y2="329.4" stroke="#767676" stroke-width="0.6"/>
<line x1="139.3" x2="139.3" y1="198.2" y2="200.2" stroke="#767676" stroke-width="0.6"/>
<text x="139.3" y="342.1" font-size="7.4" text-anchor="middle" fill="#262626">1600</text>
<line x1="175.2" x2="175.2" y1="331.4" y2="329.4" stroke="#767676" stroke-width="0.6"/>
<line x1="175.2" x2="175.2" y1="198.2" y2="200.2" stroke="#767676" stroke-width="0.6"/>
<text x="175.2" y="342.1" font-size="7.4" text-anchor="middle" fill="#262626">1800</text>
<line x1="211.2" x2="211.2" y1="331.4" y2="329.4" stroke="#767676" stroke-width="0.6"/>
<line x1="211.2" x2="211.2" y1="198.2" y2="200.2" stroke="#767676" stroke-width="0.6"/>
<text x="211.2" y="342.1" font-size="7.4" text-anchor="middle" fill="#262626">2000</text>
<line x1="31.4" x2="33.4" y1="331.4" y2="331.4" stroke="#767676" stroke-width="0.6"/>
<line x1="220.6" x2="218.6" y1="331.4" y2="331.4" stroke="#767676" stroke-width="0.6"/>
<text x="27.6" y="334.1" font-size="7.4" text-anchor="end" fill="#262626">0</text>
<line x1="31.4" x2="33.4" y1="294.3" y2="294.3" stroke="#767676" stroke-width="0.6"/>
<line x1="220.6" x2="218.6" y1="294.3" y2="294.3" stroke="#767676" stroke-width="0.6"/>
<text x="27.6" y="297.0" font-size="7.4" text-anchor="end" fill="#262626">50</text>
<line x1="31.4" x2="33.4" y1="257.3" y2="257.3" stroke="#767676" stroke-width="0.6"/>
<line x1="220.6" x2="218.6" y1="257.3" y2="257.3" stroke="#767676" stroke-width="0.6"/>
<text x="27.6" y="260.0" font-size="7.4" text-anchor="end" fill="#262626">100</text>
<line x1="31.4" x2="33.4" y1="220.2" y2="220.2" stroke="#767676" stroke-width="0.6"/>
<line x1="220.6" x2="218.6" y1="220.2" y2="220.2" stroke="#767676" stroke-width="0.6"/>
<text x="27.6" y="222.9" font-size="7.4" text-anchor="end" fill="#262626">150</text>
<text x="33.4" y="211.8" font-size="12.4" fill="#000">(b)</text>
<text x="125.8" y="195" font-size="8.3" font-weight="bold" text-anchor="middle" fill="#000">Timelines of the Included Series</text>
<text x="125.4" y="354.1" font-size="8.4" text-anchor="middle" fill="#262626">Year</text>
<text transform="translate(11.4,265.2) rotate(-90)" font-size="8.4" text-anchor="middle" fill="#262626">Sample Number</text>
</g>
<g>
<line x1="288.4" x2="288.4" y1="198.2" y2="331.4" stroke="#e4e4e4" stroke-width="0.6"/>
<line x1="331.4" x2="331.4" y1="198.2" y2="331.4" stroke="#e4e4e4" stroke-width="0.6"/>
<line x1="374.5" x2="374.5" y1="198.2" y2="331.4" stroke="#e4e4e4" stroke-width="0.6"/>
<line x1="417.5" x2="417.5" y1="198.2" y2="331.4" stroke="#e4e4e4" stroke-width="0.6"/>
<line x1="460.6" x2="460.6" y1="198.2" y2="331.4" stroke="#e4e4e4" stroke-width="0.6"/>
<line x1="279.8" x2="469.4" y1="293.4" y2="293.4" stroke="#e4e4e4" stroke-width="0.6"/>
<line x1="279.8" x2="469.4" y1="255.5" y2="255.5" stroke="#e4e4e4" stroke-width="0.6"/>
<line x1="279.8" x2="469.4" y1="217.5" y2="217.5" stroke="#e4e4e4" stroke-width="0.6"/>
<rect x="288.90" y="330.5" width="4.31" height="0.9" fill="#4f9dd6"/>
<rect x="293.20" y="319.7" width="4.31" height="11.7" fill="#4f9dd6"/>
<rect x="297.51" y="282.2" width="4.31" height="49.2" fill="#4f9dd6"/>
<rect x="301.81" y="273.5" width="4.31" height="57.9" fill="#4f9dd6"/>
<rect x="306.12" y="237.8" width="4.30" height="93.6" fill="#4f9dd6"/>
<rect x="310.42" y="207.7" width="4.31" height="123.7" fill="#4f9dd6"/>
<rect x="314.73" y="230.5" width="4.31" height="100.9" fill="#4f9dd6"/>
<rect x="319.03" y="256.3" width="4.31" height="75.1" fill="#4f9dd6"/>
<rect x="323.34" y="251.2" width="4.31" height="80.2" fill="#4f9dd6"/>
<rect x="327.64" y="263.1" width="4.31" height="68.3" fill="#4f9dd6"/>
<rect x="331.95" y="274.6" width="4.31" height="56.8" fill="#4f9dd6"/>
<rect x="336.25" y="274.6" width="4.31" height="56.8" fill="#4f9dd6"/>
<rect x="340.56" y="301.6" width="4.30" height="29.8" fill="#4f9dd6"/>
<rect x="344.86" y="294.3" width="4.31" height="37.1" fill="#4f9dd6"/>
<rect x="349.17" y="312.4" width="4.31" height="19.0" fill="#4f9dd6"/>
<rect x="353.47" y="310.5" width="4.31" height="20.9" fill="#4f9dd6"/>
<rect x="357.78" y="311.4" width="4.31" height="20.0" fill="#4f9dd6"/>
<rect x="362.08" y="320.7" width="4.31" height="10.7" fill="#4f9dd6"/>
<rect x="366.39" y="318.8" width="4.31" height="12.6" fill="#4f9dd6"/>
<rect x="370.69" y="324.0" width="4.31" height="7.4" fill="#4f9dd6"/>
<rect x="375.00" y="325.5" width="4.30" height="5.9" fill="#4f9dd6"/>
<rect x="379.30" y="325.5" width="4.31" height="5.9" fill="#4f9dd6"/>
<rect x="383.61" y="326.5" width="4.30" height="4.9" fill="#4f9dd6"/>
<rect x="387.91" y="328.0" width="4.31" height="3.4" fill="#4f9dd6"/>
<rect x="392.22" y="328.6" width="4.31" height="2.8" fill="#4f9dd6"/>
<rect x="396.52" y="329.0" width="4.31" height="2.4" fill="#4f9dd6"/>
<rect x="400.83" y="329.2" width="4.31" height="2.2" fill="#4f9dd6"/>
<rect x="405.13" y="329.6" width="4.31" height="1.8" fill="#4f9dd6"/>
<rect x="409.44" y="330.0" width="4.31" height="1.4" fill="#4f9dd6"/>
<rect x="413.75" y="330.2" width="4.30" height="1.2" fill="#4f9dd6"/>
<rect x="418.05" y="330.4" width="4.31" height="1.0" fill="#4f9dd6"/>
<rect x="422.35" y="330.5" width="4.31" height="0.9" fill="#4f9dd6"/>
<rect x="426.66" y="330.6" width="4.31" height="0.8" fill="#4f9dd6"/>
<rect x="430.96" y="330.8" width="4.31" height="0.6" fill="#4f9dd6"/>
<rect x="435.27" y="330.9" width="4.30" height="0.5" fill="#4f9dd6"/>
<rect x="439.57" y="331.0" width="4.31" height="0.4" fill="#4f9dd6"/>
<rect x="443.88" y="331.1" width="4.30" height="0.3" fill="#4f9dd6"/>
<rect x="448.18" y="331.1" width="4.31" height="0.3" fill="#4f9dd6"/>
<rect x="452.49" y="331.1" width="4.30" height="0.3" fill="#4f9dd6"/>
<rect x="456.79" y="331.2" width="4.31" height="0.2" fill="#4f9dd6"/>
<path d="M288.90,331.4V330.5H293.20V331.4M293.20,331.4V319.7H297.51V331.4M297.51,331.4V282.2H301.81V331.4M301.81,331.4V273.5H306.12V331.4M306.12,331.4V237.8H310.42V331.4M310.42,331.4V207.7H314.73V331.4M314.73,331.4V230.5H319.03V331.4M319.03,331.4V256.3H323.34V331.4M323.34,331.4V251.2H327.64V331.4M327.64,331.4V263.1H331.95V331.4M331.95,331.4V274.6H336.25V331.4M336.25,331.4V274.6H340.56V331.4M340.56,331.4V301.6H344.86V331.4M344.86,331.4V294.3H349.17V331.4M349.17,331.4V312.4H353.47V331.4M353.47,331.4V310.5H357.78V331.4M357.78,331.4V311.4H362.08V331.4M362.08,331.4V320.7H366.39V331.4M366.39,331.4V318.8H370.69V331.4M370.69,331.4V324.0H375.00V331.4M375.00,331.4V325.5H379.30V331.4M379.30,331.4V325.5H383.61V331.4M383.61,331.4V326.5H387.91V331.4M387.91,331.4V328.0H392.22V331.4M392.22,331.4V328.6H396.52V331.4M396.52,331.4V329.0H400.83V331.4M400.83,331.4V329.2H405.13V331.4M405.13,331.4V329.6H409.44V331.4M409.44,331.4V330.0H413.75V331.4M413.75,331.4V330.2H418.05V331.4M418.05,331.4V330.4H422.35V331.4M422.35,331.4V330.5H426.66V331.4M426.66,331.4V330.6H430.96V331.4M430.96,331.4V330.8H435.27V331.4M435.27,331.4V330.9H439.57V331.4M439.57,331.4V331.0H443.88V331.4M443.88,331.4V331.1H448.18V331.4M448.18,331.4V331.1H452.49V331.4M452.49,331.4V331.1H456.79V331.4M456.79,331.4V331.2H461.10V331.4" fill="none" stroke="#1f4668" stroke-width="0.5"/>
<line x1="321.5" x2="321.5" y1="331.4" y2="198.2" stroke="#1414ff" stroke-width="1.05" stroke-dasharray="3.9,4.6"/>
<line x1="326.5" x2="326.5" y1="331.4" y2="198.2" stroke="#f21a1a" stroke-width="1.05" stroke-dasharray="3.9,4.6"/>
<rect x="279.8" y="198.2" width="189.6" height="133.2" fill="none" stroke="#767676" stroke-width="0.7"/>
<line x1="288.4" x2="288.4" y1="331.4" y2="329.4" stroke="#767676" stroke-width="0.6"/>
<line x1="288.4" x2="288.4" y1="198.2" y2="200.2" stroke="#767676" stroke-width="0.6"/>
<text x="288.4" y="342.1" font-size="7.4" text-anchor="middle" fill="#262626">0</text>
<line x1="331.4" x2="331.4" y1="331.4" y2="329.4" stroke="#767676" stroke-width="0.6"/>
<line x1="331.4" x2="331.4" y1="198.2" y2="200.2" stroke="#767676" stroke-width="0.6"/>
<text x="331.4" y="342.1" font-size="7.4" text-anchor="middle" fill="#262626">0.5</text>
<line x1="374.5" x2="374.5" y1="331.4" y2="329.4" stroke="#767676" stroke-width="0.6"/>
<line x1="374.5" x2="374.5" y1="198.2" y2="200.2" stroke="#767676" stroke-width="0.6"/>
<text x="374.5" y="342.1" font-size="7.4" text-anchor="middle" fill="#262626">1</text>
<line x1="417.5" x2="417.5" y1="331.4" y2="329.4" stroke="#767676" stroke-width="0.6"/>
<line x1="417.5" x2="417.5" y1="198.2" y2="200.2" stroke="#767676" stroke-width="0.6"/>
<text x="417.5" y="342.1" font-size="7.4" text-anchor="middle" fill="#262626">1.5</text>
<line x1="460.6" x2="460.6" y1="331.4" y2="329.4" stroke="#767676" stroke-width="0.6"/>
<line x1="460.6" x2="460.6" y1="198.2" y2="200.2" stroke="#767676" stroke-width="0.6"/>
<text x="460.6" y="342.1" font-size="7.4" text-anchor="middle" fill="#262626">2</text>
<line x1="279.8" x2="281.8" y1="331.4" y2="331.4" stroke="#767676" stroke-width="0.6"/>
<line x1="469.4" x2="467.4" y1="331.4" y2="331.4" stroke="#767676" stroke-width="0.6"/>
<text x="276.6" y="334.1" font-size="7.4" text-anchor="end" fill="#262626">0</text>
<line x1="279.8" x2="281.8" y1="293.4" y2="293.4" stroke="#767676" stroke-width="0.6"/>
<line x1="469.4" x2="467.4" y1="293.4" y2="293.4" stroke="#767676" stroke-width="0.6"/>
<text x="276.6" y="296.1" font-size="7.4" text-anchor="end" fill="#262626">1000</text>
<line x1="279.8" x2="281.8" y1="255.5" y2="255.5" stroke="#767676" stroke-width="0.6"/>
<line x1="469.4" x2="467.4" y1="255.5" y2="255.5" stroke="#767676" stroke-width="0.6"/>
<text x="276.6" y="258.2" font-size="7.4" text-anchor="end" fill="#262626">2000</text>
<line x1="279.8" x2="281.8" y1="217.5" y2="217.5" stroke="#767676" stroke-width="0.6"/>
<line x1="469.4" x2="467.4" y1="217.5" y2="217.5" stroke="#767676" stroke-width="0.6"/>
<text x="276.6" y="220.2" font-size="7.4" text-anchor="end" fill="#262626">3000</text>
<text x="282.6" y="211.9" font-size="12.4" fill="#000">(c)</text>
<text x="375.2" y="195" font-size="8.3" font-weight="bold" text-anchor="middle" fill="#000">Tree Growth Distribution</text>
<text x="377.5" y="353.5" font-size="8.4" text-anchor="middle" fill="#262626">Tree Growth (mm/yr)</text>
<text transform="translate(255.9,264.8) rotate(-90)" font-size="8.4" text-anchor="middle" fill="#262626">Frequency</text>
<text x="340.9" y="214.4" font-size="6.9" fill="#ff2020">Mean: 0.44 mm</text>
<text x="340.9" y="223.5" font-size="6.9" fill="#2020ff">Median: 0.38 mm</text>
<text x="342.8" y="233.1" font-size="6.9" fill="#111"><tspan font-style="italic">n</tspan> = 25478</text>
</g>
</svg>
</body></html>
